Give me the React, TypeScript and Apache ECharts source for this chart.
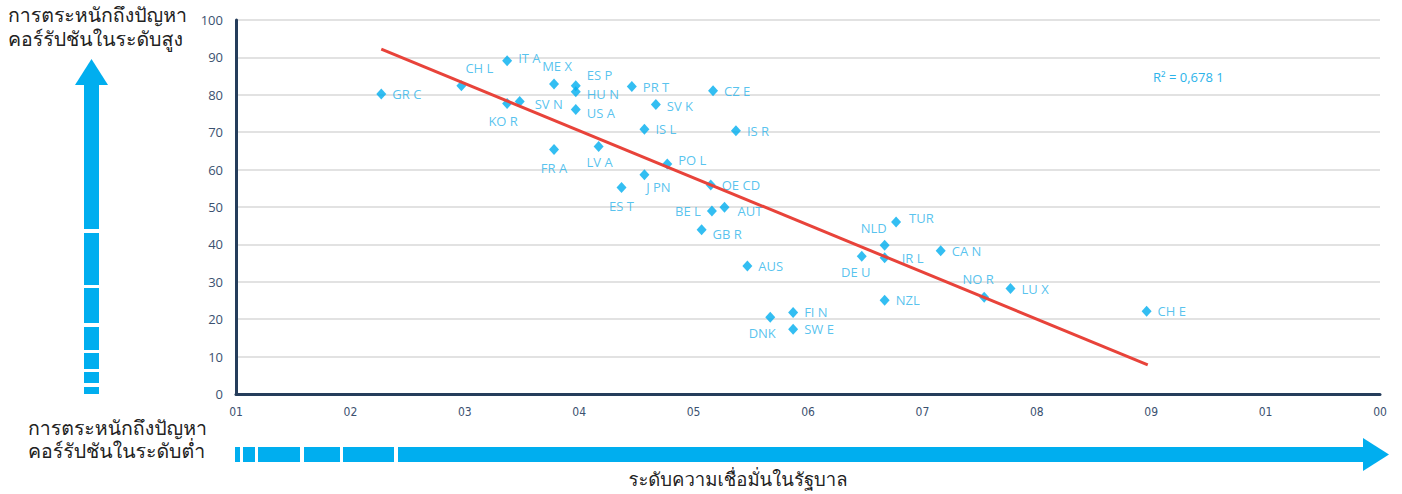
import React, { useEffect, useRef } from "react";
import * as echarts from "echarts";

// ---- data ----
const countries = [
  "GR C", "CH L", "IT A", "ME X", "ES P", "HU N", "PR T", "CZ E", "KO R", "SV N",
  "US A", "SV K", "IS L", "IS R", "FR A", "LV A", "PO L", "J PN", "OE CD", "ES T",
  "BE L", "AUT", "GB R", "AUS", "DNK", "FI N", "SW E", "TUR", "NLD", "DE U",
  "IR L", "CA N", "NO R", "LU X", "NZL", "CH E",
];
const trustInGov = [
  22.7, 29.7, 33.7, 37.8, 39.7, 39.7, 44.6, 51.7, 33.7, 34.8,
  39.7, 46.7, 45.7, 53.7, 37.8, 41.7, 47.7, 45.7, 51.5, 43.7,
  51.6, 52.7, 50.7, 54.7, 56.7, 58.7, 58.7, 67.7, 66.7, 64.7,
  66.7, 71.6, 75.4, 77.7, 66.7, 89.6,
];
const corruptionPerception = [
  80.2, 82.4, 89.1, 82.9, 82.4, 80.8, 82.2, 81.1, 77.7, 78.2,
  76.1, 77.4, 70.8, 70.4, 65.4, 66.2, 61.5, 58.6, 55.9, 55.2,
  48.9, 49.9, 43.9, 34.2, 20.5, 21.8, 17.3, 46.0, 39.8, 36.8,
  36.4, 38.3, 25.9, 28.2, 25.1, 22.1,
];
const trendX = [22.7, 89.7];
const trendY = [92.2, 7.8];
const xTickLabels = ["01", "02", "03", "04", "05", "06", "07", "08", "09", "01", "00"];
const rSquaredText = "R² = 0,678 1";
const yTitleHigh = ["การตระหนักถึงปัญหา", "คอร์รัปชันในระดับสูง"];
const yTitleLow = ["การตระหนักถึงปัญหา", "คอร์รัปชันในระดับต่ำ"];
const xTitle = "ระดับความเชื่อมั่นในรัฐบาล";

// label placement (style only)
const labelPlace: Record<string, { position: string; offset?: number[] }> = {
  "CH L": { position: "top", offset: [18, 0] },
  "IT A": { position: "right", offset: [0, -3] },
  "ME X": { position: "top", offset: [3, 0] },
  "ES P": { position: "right", offset: [0, -11] },
  "HU N": { position: "right", offset: [0, 2] },
  "KO R": { position: "bottom", offset: [-4, 0] },
  "SV N": { position: "right", offset: [4, 2] },
  "US A": { position: "right", offset: [0, 4] },
  "SV K": { position: "right", offset: [0, 1] },
  "FR A": { position: "bottom", offset: [0, 1] },
  "LV A": { position: "bottom", offset: [1, -2] },
  "PO L": { position: "right", offset: [0, -4] },
  "J PN": { position: "bottom", offset: [14, -6] },
  "ES T": { position: "bottom", offset: [0, 0] },
  "BE L": { position: "left", offset: [0, 0] },
  "AUT": { position: "right", offset: [2, 4] },
  "GB R": { position: "right", offset: [0, 4] },
  "DNK": { position: "bottom", offset: [-8, -2] },
  "TUR": { position: "right", offset: [2, -4] },
  "NLD": { position: "top", offset: [-11, 1] },
  "DE U": { position: "bottom", offset: [-6, -2] },
  "IR L": { position: "right", offset: [6, 0] },
  "NO R": { position: "top", offset: [-6, 0] },
};

const BLUE = "#00aeef";
const LABEL_BLUE = "#2bb3ea";
const THAI_FONT = '"Loma", "Garuda", "Tlwg Typo", "Noto Sans Thai Looped", "Noto Serif Thai", "Noto Sans Thai", sans-serif';

export default function App() {
  const ref = useRef<HTMLDivElement>(null);

  useEffect(() => {
    document.body.style.margin = "0";
    if (!ref.current) return;
    const chart = echarts.init(ref.current, undefined, { renderer: "svg" });

    const points = countries.map((name, i) => {
      const p = labelPlace[name] || { position: "right" };
      return {
        name,
        value: [trustInGov[i], corruptionPerception[i]],
        label: { position: p.position, offset: p.offset || [0, 0] },
      };
    });

    const upSegs = [
      [84, 229], [233, 285], [288, 323], [327, 350], [353, 369], [372, 383], [387, 394],
    ];
    const rightSegs = [
      [235, 240], [243, 255], [258, 300], [304, 340], [343, 394], [398, 1365],
    ];

    const thaiText = (text: string, x: number, y: number, size: number, align = "left") => ({
      type: "text",
      x,
      y,
      style: {
        text,
        font: `${size}px ${THAI_FONT}`,
        fill: "#222",
        align,
        verticalAlign: "middle",
      },
    });

    const graphic: any[] = [
      thaiText(yTitleHigh[0], 8, 15, 19.5),
      thaiText(yTitleHigh[1], 8, 39, 19.5),
      {
        type: "polygon",
        shape: { points: [[75, 85], [91.5, 59], [108, 85]] },
        style: { fill: BLUE },
      },
      ...upSegs.map(([a, b]) => ({
        type: "rect",
        shape: { x: 84, y: a, width: 15, height: b - a },
        style: { fill: BLUE },
      })),
      thaiText(yTitleLow[0], 28, 428, 19.5),
      thaiText(yTitleLow[1], 28, 451, 19.5),
      ...rightSegs.map(([a, b]) => ({
        type: "rect",
        shape: { x: a, y: 447, width: b - a, height: 15 },
        style: { fill: BLUE },
      })),
      {
        type: "polygon",
        shape: { points: [[1363, 438], [1389, 454.5], [1363, 471]] },
        style: { fill: BLUE },
      },
      thaiText(xTitle, 738, 479, 18.5, "center"),
      {
        type: "text",
        x: 1153,
        y: 77,
        style: {
          text: rSquaredText,
          font: '13px "Open Sans", "Noto Sans", sans-serif',
          fill: LABEL_BLUE,
          verticalAlign: "middle",
        },
      },
    ];

    chart.setOption({
      animation: false,
      backgroundColor: "#ffffff",
      grid: { left: 236, right: 22, top: 20, bottom: 100, containLabel: false },
      xAxis: {
        type: "value",
        min: 10,
        max: 110,
        interval: 10,
        axisLine: { show: true, onZero: false, lineStyle: { color: "#253d5b", width: 3 } },
        axisTick: { show: false },
        splitLine: { show: false },
        axisLabel: {
          margin: 12,
          color: "#3b5170",
          fontSize: 12,
          fontFamily: '"Liberation Sans Narrow", "DejaVu Sans Condensed", sans-serif',
          formatter: (v: number) => xTickLabels[Math.round((v - 10) / 10)] ?? "",
        },
      },
      yAxis: {
        type: "value",
        min: 0,
        max: 100,
        interval: 10,
        axisLine: { show: true, lineStyle: { color: "#253d5b", width: 3 } },
        axisTick: { show: false },
        splitLine: { show: true, lineStyle: { color: "#d9d9d9", width: 1.5 } },
        axisLabel: {
          margin: 13,
          color: "#3b5170",
          fontSize: 13,
          fontFamily: '"Open Sans", "Noto Sans", sans-serif',
        },
      },
      series: [
        {
          type: "scatter",
          symbol: "diamond",
          symbolSize: [10, 11],
          itemStyle: { color: BLUE },
          z: 2,
          label: {
            show: true,
            formatter: "{b}",
            color: LABEL_BLUE,
            fontSize: 13,
            distance: 6,
            fontFamily: '"Open Sans", "Noto Sans", sans-serif',
          },
          data: points,
        },
        {
          type: "line",
          data: trendX.map((x, i) => [x, trendY[i]]),
          showSymbol: false,
          symbol: "none",
          lineStyle: { color: "#e8433a", width: 3 },
          z: 3,
          silent: true,
        },
      ],
      graphic,
    });

    return () => chart.dispose();
  }, []);

  return <div ref={ref} style={{ width: 1402, height: 494 }} />;
}
